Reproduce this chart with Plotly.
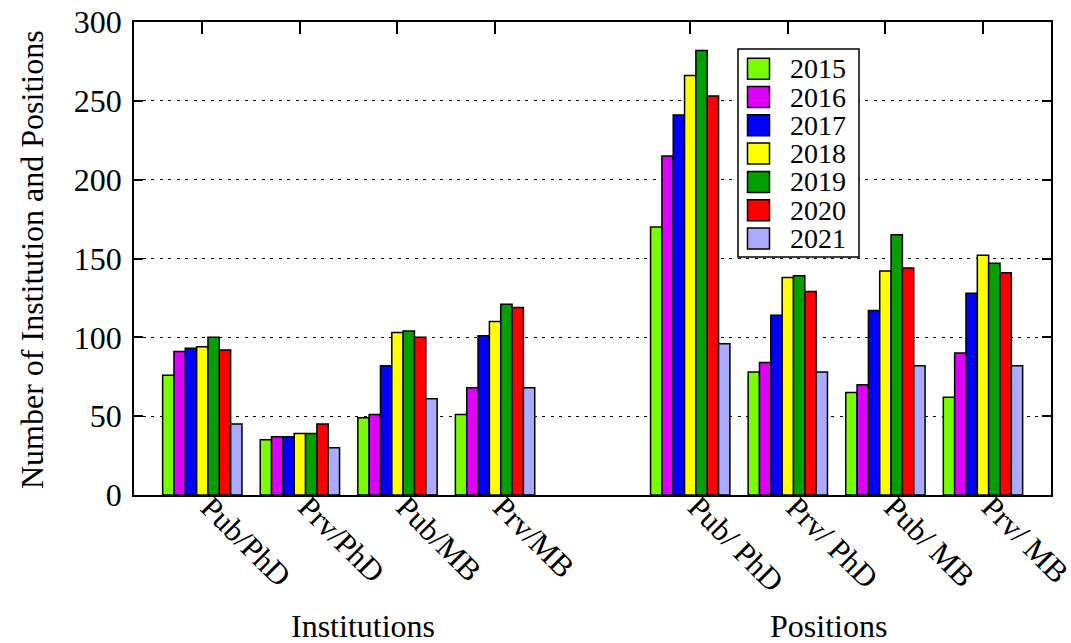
import plotly.graph_objects as go

# Categories (slot 4 is an empty spacer between the two groups)
categories = ["Pub/PhD", "Prv/PhD", "Pub/MB", "Prv/MB", "",
              "Pub/ PhD", "Prv/ PhD", "Pub/ MB", "Prv/ MB"]
slots = [0, 1, 2, 3, 5, 6, 7, 8]
tick_labels = [c for c in categories if c]

years = ["2015", "2016", "2017", "2018", "2019", "2020", "2021"]
colors = ["#77ff00", "#dd00ff", "#0000ff", "#ffff00", "#00a000", "#ff0000", "#aaaaff"]

v2015 = [76, 35, 49, 51, 170, 78, 65, 62]
v2016 = [91, 37, 51, 68, 215, 84, 70, 90]
v2017 = [93, 37, 82, 101, 241, 114, 117, 128]
v2018 = [94, 39, 103, 110, 266, 138, 142, 152]
v2019 = [100, 39, 104, 121, 282, 139, 165, 147]
v2020 = [92, 45, 100, 119, 253, 129, 144, 141]
v2021 = [45, 30, 61, 68, 96, 78, 82, 82]
series = [v2015, v2016, v2017, v2018, v2019, v2020, v2021]

group_titles = ["Institutions", "Positions"]

W, H = 1071, 643
L, R, T, B = 134, 20, 22, 148
PW, PH = W - L - R, H - T - B
FONT = "Liberation Serif"
FS = 32


def px(x):
    return (x - L) / PW


def py(y):
    return (H - B - y) / PH


fig = go.Figure()
for name, col, vals in zip(years, colors, series):
    fig.add_trace(go.Bar(
        x=slots, y=vals, name=name,
        marker=dict(color=col, line=dict(color="black", width=1.5)),
        showlegend=False,
    ))

# invisible trace carrying the top (mirrored) tick marks
fig.add_trace(go.Scatter(x=[slots[0]], y=[0], xaxis="x2", mode="markers",
                         marker=dict(opacity=0), showlegend=False,
                         hoverinfo="skip"))

xrange = [-0.70, 8.697]

fig.update_layout(
    width=W, height=H,
    margin=dict(l=L, r=R, t=T, b=B, autoexpand=False),
    plot_bgcolor="white", paper_bgcolor="white",
    barmode="group", bargap=0.187, bargroupgap=0,
    font=dict(family=FONT, size=FS, color="black"),
    xaxis=dict(
        range=xrange, tickmode="array", tickvals=slots,
        showticklabels=False, ticks="", showgrid=False, zeroline=False,
        showline=True, linecolor="black", linewidth=1.5, mirror=True,
        automargin=False,
    ),
    xaxis2=dict(
        range=xrange, overlaying="x", side="top", tickmode="array",
        tickvals=slots, showticklabels=False, ticks="inside", ticklen=12,
        tickwidth=1.5, tickcolor="black", showgrid=False, zeroline=False,
        showline=False, automargin=False,
    ),
    yaxis=dict(
        range=[0, 300], tickmode="array", tickvals=[0, 50, 100, 150, 200, 250, 300],
        ticks="inside", ticklen=9, tickwidth=1.5, tickcolor="black", mirror="ticks",
        showline=True, linecolor="black", linewidth=1.5,
        showgrid=True, gridcolor="black", gridwidth=1, griddash="3px,5.5px",
        zeroline=False, tickfont=dict(family=FONT, size=FS), ticklabelstandoff=4,
        automargin=False,
    ),
)

annotations = [
    dict(text="Number of Institution and Positions", textangle=-90,
         x=px(32), y=py(260), xref="paper", yref="paper",
         xanchor="center", yanchor="middle",
         showarrow=False, font=dict(family=FONT, size=FS)),
    dict(text=group_titles[0], x=px(362.5), y=py(626), xref="paper", yref="paper",
         xanchor="center", yanchor="middle",
         showarrow=False, font=dict(family=FONT, size=FS)),
    dict(text=group_titles[1], x=px(828), y=py(626), xref="paper", yref="paper",
         xanchor="center", yanchor="middle",
         showarrow=False, font=dict(family=FONT, size=FS)),
]

# category labels, rotated, hanging from each tick position
for s, lab in zip(slots, tick_labels):
    annotations.append(dict(text=lab, x=s, xref="x", y=py(488), yref="paper",
                            xanchor="left", yanchor="top", textangle=45,
                            xshift=-10, borderpad=0, showarrow=False,
                            font=dict(family=FONT, size=31)))

# legend box with colour swatches
shapes = [dict(type="rect", xref="paper", yref="paper",
               x0=px(738), x1=px(859), y0=py(257), y1=py(49),
               fillcolor="white", line=dict(color="black", width=1.5), layer="above")]
row0, step = 68.7, 28.3
for i, (name, col) in enumerate(zip(years, colors)):
    cy = row0 + i * step
    shapes.append(dict(type="rect", xref="paper", yref="paper",
                       x0=px(747.5), x1=px(769.5), y0=py(cy + 10.5), y1=py(cy - 10.5),
                       fillcolor=col, line=dict(color="black", width=1.5), layer="above"))
    annotations.append(dict(text=name, x=px(788), y=py(cy), xref="paper", yref="paper",
                            xanchor="left", yanchor="middle", showarrow=False,
                            font=dict(family=FONT, size=28)))

fig.update_layout(shapes=shapes, annotations=annotations)

fig.write_html("out.html")
